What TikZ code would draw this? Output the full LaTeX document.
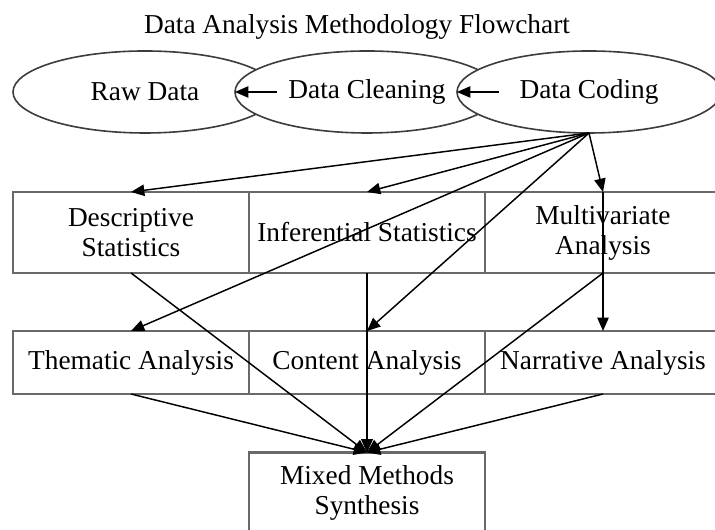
\documentclass[tikz,border=0pt]{standalone}
\usepackage{fontspec}
\setmainfont{Liberation Serif}
\usepackage{tikz}
\usetikzlibrary{shapes.geometric,arrows.meta,positioning}
\definecolor{dagray}{RGB}{60,60,60}
\definecolor{daframe}{RGB}{105,105,105}

\begin{document}
\begin{tikzpicture}[
    x=0.75pt, y=0.75pt,
    font=\fontsize{20.5}{22.5}\selectfont,
    stage/.style={ellipse, draw=dagray, fill=white, line width=1.2pt, minimum width=198pt, minimum height=61.5pt, inner sep=0pt, outer sep=0pt},
    method/.style={rectangle, draw=daframe, fill=white, line width=1.8pt, minimum width=177pt, minimum height=60.75pt, inner sep=1pt, outer sep=0pt, align=center},
    single/.style={method, minimum height=47.25pt},
    arrow/.style={-{Triangle[length=10pt,width=8.5pt]}, line width=1.1pt}
]
\useasboundingbox (0,0) rectangle (715,530);
\clip (0,0) rectangle (715,530);

% Title
\node (title) at (357,503) {Data Analysis Methodology Flowchart};

% Data preparation
\node[stage] (raw) at (145,438) {Raw Data};
\node[stage] (clean) at (367,438) {Data Cleaning};
\node[stage] (coding) at (589,438) {Data Coding};

% Quantitative methods
\node[method] (desc) at (131,297.5) {Descriptive\\Statistics};
\node[method, right=0pt of desc] (infer) {Inferential Statistics};
\node[method, right=0pt of infer] (multi) {Multivariate\\Analysis};

% Qualitative methods
\node[single] (thematic) at (131,167.5) {Thematic Analysis};
\node[single, right=0pt of thematic] (content) {Content Analysis};
\node[single, right=0pt of content] (narrative) {Narrative Analysis};

% Synthesis
\node[method] (mixed) at (367,37) {Mixed Methods\\Synthesis};

% Arrows - preparation
\draw[arrow] (raw.east) -- (clean.west);
\draw[arrow] (clean.east) -- (coding.west);

% Arrows - methods
\draw[arrow] (coding.south) -- (desc.north);
\draw[arrow] (coding.south) -- (infer.north);
\draw[arrow] (coding.south) -- (multi.north);
\draw[arrow] (coding.south) -- (thematic.north);
\draw[arrow] (coding.south) -- (content.north);
\draw[arrow] (multi.north) -- (narrative.north);

% Arrows - synthesis
\draw[arrow] (desc.south) -- (mixed.north);
\draw[arrow] (infer.south) -- (mixed.north);
\draw[arrow] (multi.south) -- (mixed.north);
\draw[arrow] (thematic.south) -- (mixed.north);
\draw[arrow] (content.south) -- (mixed.north);
\draw[arrow] (narrative.south) -- (mixed.north);

\end{tikzpicture}
\end{document}
